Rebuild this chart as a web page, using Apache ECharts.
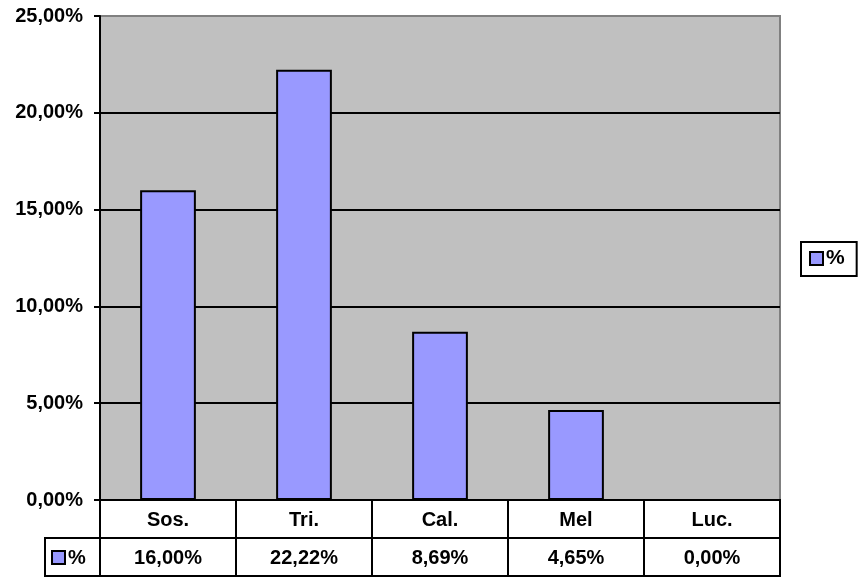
<!DOCTYPE html>
<html><head><meta charset="utf-8">
<script src="https://cdn.jsdelivr.net/npm/echarts@6/dist/echarts.min.js"></script>
<style>html,body{margin:0;padding:0;background:#fff}#c{width:858px;height:577px}</style>
</head><body><div id="c"></div>
<script>
const categories = ['Sos.', 'Tri.', 'Cal.', 'Mel', 'Luc.'];
const values = [16.00, 22.22, 8.69, 4.65, 0.00];
const seriesName = '%';
const yTicks = [0, 5, 10, 15, 20, 25];

const fmt = v => v.toFixed(2).replace('.', ',') + '%';
const FONT = '"Liberation Sans", Arial, sans-serif';
const FS = 20;

const tableData = [];
categories.forEach((c, i) => {
  tableData.push([i, 0, c]);
  tableData.push([i, 1, fmt(values[i])]);
});

const chart = echarts.init(document.getElementById('c'), null, {renderer: 'canvas'});
chart.setOption({
  animation: false,
  textStyle: {fontFamily: FONT},
  grid: [
    {left: 100, right: 78, top: 16, bottom: 77, show: true, backgroundColor: '#C0C0C0', borderColor: '#808080', borderWidth: 2},
    {left: 100, right: 78, top: 500, height: 76}
  ],
  legend: {
    data: [{name: seriesName, icon: 'rect'}], left: 801, top: 242, orient: 'vertical',
    borderColor: '#000', borderWidth: 2, padding: [6, 12, 7, 8],
    itemWidth: 13, itemHeight: 13, itemGap: 0,
    textStyle: {fontFamily: FONT, fontWeight: 'bold', fontSize: 21, color: '#000', padding: [0, 0, 0, -2]},
    itemStyle: {borderColor: '#000', borderWidth: 2}
  },
  xAxis: [
    {type: 'category', gridIndex: 0, data: categories, axisLine: {lineStyle: {color: '#000', width: 2}}, axisTick: {show: false}, axisLabel: {show: false}},
    {type: 'category', gridIndex: 1, data: categories, axisLine: {show: false}, axisTick: {show: false}, axisLabel: {show: false}}
  ],
  yAxis: [
    {type: 'value', gridIndex: 0, min: 0, max: 25, interval: 5,
     axisLine: {show: true, lineStyle: {color: '#000', width: 2}},
     axisTick: {show: true, length: 6, lineStyle: {color: '#000', width: 2}},
     splitLine: {showMaxLine: false, lineStyle: {color: '#000', width: 2}},
     axisLabel: {fontFamily: FONT, fontWeight: 'bold', fontSize: FS, color: '#000', margin: 17, padding: [3, 0, 0, 0], formatter: v => fmt(v)}},
    {type: 'category', gridIndex: 1, data: ['names', 'values'], inverse: true, axisLine: {show: false}, axisTick: {show: false}, axisLabel: {show: false}}
  ],
  series: [
    {name: seriesName, type: 'bar', xAxisIndex: 0, yAxisIndex: 0, data: values, barWidth: '41%',
     itemStyle: {color: '#9999FF', borderColor: '#000', borderWidth: 2}},
    {type: 'custom', xAxisIndex: 1, yAxisIndex: 1, data: tableData, silent: true,
     renderItem: (params, api) => {
       const p = api.coord([api.value(0), api.value(1)]);
       const s = api.size([1, 1]);
       return {
         type: 'group', children: [
           {type: 'rect', shape: {x: p[0] - s[0] / 2, y: p[1] - s[1] / 2, width: s[0], height: s[1]},
            style: {fill: '#fff', stroke: '#000', lineWidth: 2}},
           {type: 'text', style: {x: p[0], y: p[1] + 1, text: tableData[params.dataIndex][2], align: 'center', verticalAlign: 'middle',
             font: 'bold ' + FS + 'px ' + FONT, fill: '#000'}}
         ]
       };
     }}
  ],
  graphic: [
    {type: 'rect', shape: {x: 45, y: 538, width: 55, height: 38}, style: {fill: '#fff', stroke: '#000', lineWidth: 2}},
    {type: 'rect', shape: {x: 52, y: 551, width: 13, height: 13}, style: {fill: '#9999FF', stroke: '#000', lineWidth: 2}},
    {type: 'text', style: {x: 68, y: 558, text: seriesName, font: 'bold ' + FS + 'px ' + FONT, fill: '#000', verticalAlign: 'middle'}}
  ]
});
</script></body></html>
